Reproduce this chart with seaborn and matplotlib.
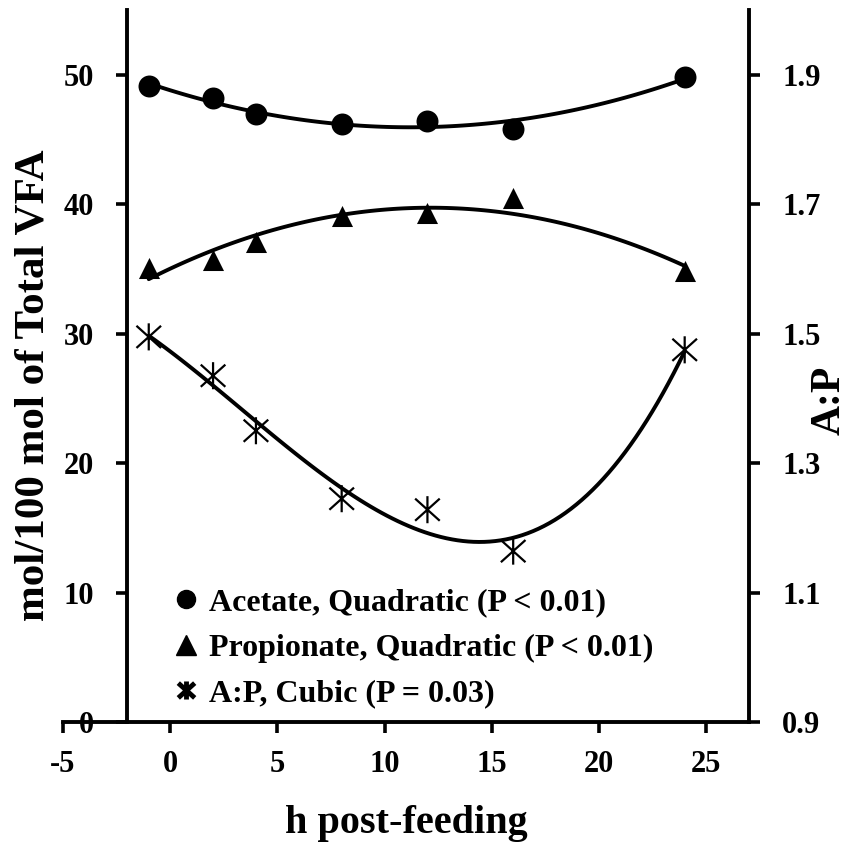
import numpy as np
import matplotlib
matplotlib.use("Agg")
import matplotlib.pyplot as plt
import seaborn as sns
from matplotlib.path import Path
from matplotlib.lines import Line2D

# ---- data ----
hours = [-1, 2, 4, 8, 12, 16, 24]
acetate = [49.1, 48.2, 47.0, 46.2, 46.45, 45.8, 49.85]
propionate = [35.1, 35.7, 37.1, 39.1, 39.35, 40.5, 34.8]
ap_ratio = [1.495, 1.435, 1.350, 1.245, 1.228, 1.164, 1.475]

x_ticks = [-5, 0, 5, 10, 15, 20, 25]
left_ticks = [0, 10, 20, 30, 40, 50]
right_ticks = [0.9, 1.1, 1.3, 1.5, 1.7, 1.9]
legend_labels = ["Acetate, Quadratic (P < 0.01)",
                 "Propionate, Quadratic (P < 0.01)",
                 "A:P, Cubic (P = 0.03)"]

sns.set_theme(style="white")
plt.rcParams["font.family"] = ["Liberation Serif", "DejaVu Serif"]
plt.rcParams["font.weight"] = "bold"
plt.rcParams["text.color"] = "black"

W, H = 848, 842
fig = plt.figure(figsize=(W / 100, H / 100), dpi=100)
ax = fig.add_axes([63 / W, 120 / H, 686 / W, 712 / H])
ax.set_facecolor("none")

star = Path([(-1, -0.9), (1, 0.9), (-1, 0.9), (1, -0.9), (0, -1.1), (0, 1.1)],
            [Path.MOVETO, Path.LINETO, Path.MOVETO, Path.LINETO, Path.MOVETO, Path.LINETO])

lw = 2.8
sns.regplot(x=hours, y=acetate, order=2, ci=None, ax=ax, color="black",
            marker="o", truncate=True,
            scatter_kws={"s": 250, "alpha": 1, "zorder": 3, "linewidths": 0},
            line_kws={"lw": lw, "zorder": 2})
sns.regplot(x=hours, y=propionate, order=2, ci=None, ax=ax, color="black",
            marker="^", truncate=True,
            scatter_kws={"s": 230, "alpha": 1, "zorder": 3, "linewidths": 0},
            line_kws={"lw": lw, "zorder": 2})

ax2 = ax.twinx()
ax2.set_facecolor("none")
sns.regplot(x=hours, y=ap_ratio, order=3, ci=None, ax=ax2, color="black",
            marker=star, truncate=True,
            scatter_kws={"s": 380, "alpha": 1, "zorder": 3, "linewidths": 1.6,
                         "facecolors": "none"},
            line_kws={"lw": lw, "zorder": 2})

ax.set_xlim(-5, 27)
ax.set_ylim(0, 55)
ax2.set_ylim(0.9, 2.0)

for s in ["top", "right"]:
    ax.spines[s].set_visible(False)
for s in ["top", "left", "bottom"]:
    ax2.spines[s].set_visible(False)
ax.spines["left"].set_position(("data", -2))
for sp in [ax.spines["left"], ax.spines["bottom"], ax2.spines["right"]]:
    sp.set_linewidth(2.8)
    sp.set_color("black")

ax.set_xticks(x_ticks)
ax.set_xticklabels([str(v) for v in x_ticks])
ax.set_yticks(left_ticks)
ax.set_yticklabels([str(v) for v in left_ticks])
ax2.set_yticks(right_ticks)
ax2.set_yticklabels([f"{v:.1f}" for v in right_ticks])

ax.tick_params(axis="x", direction="out", length=8, width=2.6, pad=12,
               labelsize=22, colors="black", bottom=True)
ax.tick_params(axis="y", direction="out", length=8, width=2.6, pad=16,
               labelsize=22, colors="black", left=True)
ax2.tick_params(axis="y", direction="out", length=8, width=2.6, pad=16,
                labelsize=22, colors="black", right=True)

ax.set_xlabel("h post-feeding", fontsize=29, fontweight="bold", color="black")
ax.xaxis.set_label_coords(0.5, -0.116)
ax.set_ylabel("mol/100 mol of Total VFA", fontsize=31, fontweight="bold", color="black")
ax.yaxis.set_label_coords(-0.043, 0.473)
ax.yaxis.label.set_va("center")
ax2.set_ylabel("A:P", fontsize=30, fontweight="bold", color="black")
ax2.yaxis.set_label_coords(1.118, 0.452)
ax2.yaxis.label.set_va("center")

handles = [
    Line2D([], [], marker="o", color="black", linestyle="none", markersize=13),
    Line2D([], [], marker="^", color="black", linestyle="none", markersize=14),
    Line2D([], [], marker=star, color="black", linestyle="none", markersize=13,
           markeredgewidth=3.5),
]
leg = ax.legend(handles, legend_labels, loc="upper left",
                bbox_to_anchor=(176 / W, 1 - 588 / H), bbox_transform=fig.transFigure,
                frameon=False, fontsize=23, handlelength=0.6, handletextpad=0.44,
                labelspacing=0.5, borderaxespad=0, borderpad=0)
for t in leg.get_texts():
    t.set_fontweight("bold")
    t.set_color("black")

fig.savefig("out.png", dpi=100)
